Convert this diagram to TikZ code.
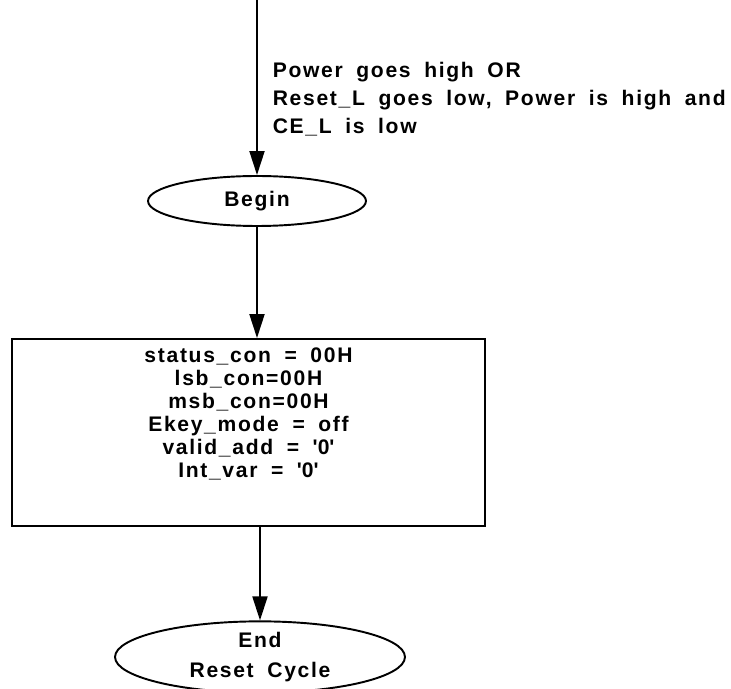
\documentclass[tikz,border=0pt]{standalone}
\usepackage{fontspec}
\setmainfont{Liberation Sans}[LetterSpace=8,WordSpace=1.8]
\usetikzlibrary{arrows.meta,shapes.geometric}

\begin{document}
\begin{tikzpicture}[x=0.02cm,y=-0.02cm,line width=1.1pt,
  every node/.style={font=\bfseries\fontsize{12}{13}\selectfont},
  flow/.style={-{Triangle[length=0.48cm,width=0.3cm]}},
  term/.style={ellipse,draw,inner sep=0pt},
  procbox/.style={rectangle,draw,inner sep=0pt}]
\useasboundingbox (0,0) rectangle (731,689);
% entry
\coordinate (entry) at (257,0);
\node[term,minimum width=4.36cm,minimum height=1.0cm] (begin) at (257,201) {Begin};
\node[anchor=north west,align=left,font=\bfseries\fontsize{12}{16}\selectfont] (cond) at (266,55)
  {Power goes high OR\\Reset\_L goes low, Power is high and\\CE\_L is low};
% reset values
\node[procbox,minimum width=9.46cm,minimum height=3.74cm] (init) at (248.5,432.5) {};
\node[align=center] (initvals) at (248.5,414)
  {status\_con = 00H\\lsb\_con=00H\\msb\_con=00H\\Ekey\_mode = off\\
   valid\_add = \textquotesingle0\textquotesingle\\Int\_var = \textquotesingle0\textquotesingle};
\node[term,align=center,minimum width=5.8cm,minimum height=1.24cm,font=\bfseries\fontsize{12}{17.5}\selectfont] (end) at (260,657)
  {End\\Reset Cycle};
\draw[flow] (entry) -- (begin.north);
\draw[flow] (begin.south) -- (begin.south |- init.north);
\draw[flow] (init.south -| end.north) -- (end.north);
\end{tikzpicture}
\end{document}
